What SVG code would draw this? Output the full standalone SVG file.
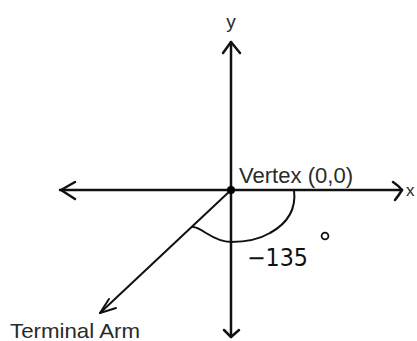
<svg xmlns="http://www.w3.org/2000/svg" width="417" height="341" viewBox="0 0 417 341">
<style>
.ax{fill:none;stroke:#111;stroke-width:2.5;stroke-linecap:round;stroke-linejoin:round}
.thin{fill:none;stroke:#111;stroke-width:2;stroke-linecap:round;stroke-linejoin:round}
.lbl{font-family:"Liberation Sans",Arial,sans-serif;fill:#2a2a2a}
.hand{font-family:"DejaVu Sans",sans-serif;fill:#111}
</style>
<rect width="417" height="341" fill="#fff"/>
<g id="connectors">
<path class="ax" d="M60 190 H402"/>
<path class="ax" d="M75 182 L61 190 L75 199"/>
<path class="ax" d="M393 182 Q399 186 402 190 Q399 195 395 200"/>
<path class="ax" d="M231 42 V337"/>
<path class="ax" d="M223 53 L231 42 L240 53"/>
<path class="ax" d="M224 330 L231 337 L239 330"/>
<path class="thin" d="M231 190 L100 313"/>
<path class="thin" d="M100 313 L109 299 M100 313 L116 308"/>
<path class="thin" d="M294 190 C296 206 290 222 270 233 C258 240 245 242 231 242 C222 242 214 238 206 233 C200 229 196 227 193 227"/>
</g>
<g id="vertex">
<circle cx="231" cy="190" r="4" fill="#000"/>
<text class="lbl" x="239" y="183" font-size="22" textLength="114" lengthAdjust="spacingAndGlyphs">Vertex (0,0)</text>
</g>
<g id="y-label"><text class="lbl" x="231" y="28" font-size="19" text-anchor="middle">y</text></g>
<g id="x-label"><text class="lbl" x="406" y="196" font-size="17">x</text></g>
<g id="terminal-arm"><text class="lbl" x="10" y="338" font-size="21" textLength="130" lengthAdjust="spacingAndGlyphs">Terminal Arm</text></g>
<g id="angle">
<text class="hand" x="247" y="266" font-size="24" textLength="61" lengthAdjust="spacingAndGlyphs">−135</text>
<circle cx="325" cy="236" r="3.4" fill="none" stroke="#111" stroke-width="1.8"/>
</g>
</svg>
